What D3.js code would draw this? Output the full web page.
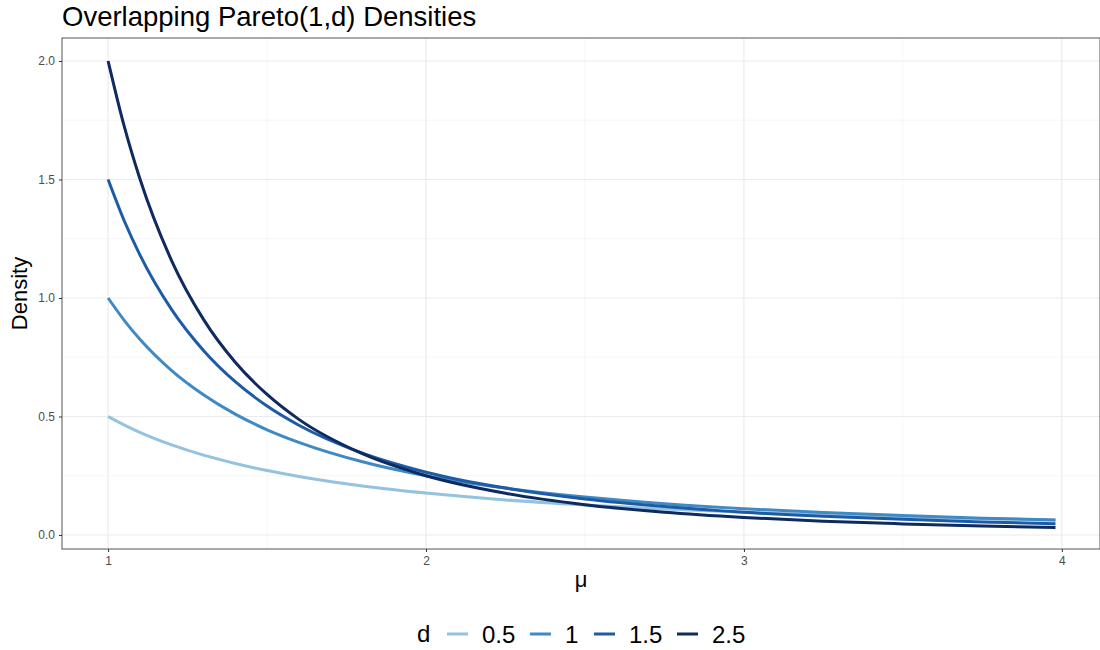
<!DOCTYPE html>
<html>
<head>
<meta charset="utf-8">
<script src="https://cdn.jsdelivr.net/npm/d3@7"></script>
<style>
  body { margin: 0; background: #fff; }
  svg { font-family: "Liberation Sans", Arial, Helvetica, sans-serif; }
</style>
</head>
<body>
<svg id="chart" width="1100" height="650"></svg>
<script>
// values
var xValues = [1, 1.05, 1.1, 1.2, 1.3, 1.4, 1.5, 1.6, 1.8, 2.0, 2.25, 2.5, 2.75, 3.0, 3.25, 3.5, 3.75, 3.98];
var d05 = [0.5, 0.465, 0.433, 0.380, 0.337, 0.302, 0.272, 0.247, 0.207, 0.177, 0.148, 0.127, 0.110, 0.096, 0.085, 0.076, 0.069, 0.063];
var d1 = [1.0, 0.907, 0.826, 0.694, 0.592, 0.510, 0.444, 0.391, 0.309, 0.250, 0.198, 0.160, 0.132, 0.111, 0.095, 0.082, 0.071, 0.063];
var d15 = [1.5, 1.328, 1.182, 0.951, 0.779, 0.647, 0.544, 0.463, 0.345, 0.265, 0.198, 0.152, 0.120, 0.096, 0.079, 0.066, 0.055, 0.048];
var d25 = [2.0, 1.728, 1.503, 1.157, 0.910, 0.729, 0.593, 0.488, 0.343, 0.250, 0.176, 0.128, 0.096, 0.074, 0.058, 0.047, 0.038, 0.032];
var seriesNames = ["0.5", "1", "1.5", "2.5"];
var seriesColors = ["#93c3df", "#3f8ac4", "#1d5ba6", "#0e2a60"];
var xTicks = [1, 2, 3, 4];
var yTicks = [0, 0.5, 1, 1.5, 2];

var svg = d3.select("#chart");

// panel box
var pLeft = 62, pRight = 1100, pTop = 38, pBottom = 549;

var x = d3.scaleLinear().domain([0.855, 4.12]).range([pLeft, pRight]);
var y = d3.scaleLinear().domain([-0.059, 2.097]).range([pBottom, pTop]);

// minor grid
svg.append("g").selectAll("line")
    .data([1.5, 2.5, 3.5])
    .enter().append("line")
    .attr("x1", function (d) { return x(d); }).attr("x2", function (d) { return x(d); })
    .attr("y1", pTop).attr("y2", pBottom)
    .attr("stroke", "#f0f0f0").attr("stroke-width", 0.6);
svg.append("g").selectAll("line")
    .data([0.25, 0.75, 1.25, 1.75])
    .enter().append("line")
    .attr("y1", function (d) { return y(d); }).attr("y2", function (d) { return y(d); })
    .attr("x1", pLeft).attr("x2", pRight)
    .attr("stroke", "#f0f0f0").attr("stroke-width", 0.6);

// major grid
svg.append("g").selectAll("line")
    .data(xTicks)
    .enter().append("line")
    .attr("x1", function (d) { return x(d); }).attr("x2", function (d) { return x(d); })
    .attr("y1", pTop).attr("y2", pBottom)
    .attr("stroke", "#ebebeb").attr("stroke-width", 1.2);
svg.append("g").selectAll("line")
    .data(yTicks)
    .enter().append("line")
    .attr("y1", function (d) { return y(d); }).attr("y2", function (d) { return y(d); })
    .attr("x1", pLeft).attr("x2", pRight)
    .attr("stroke", "#ebebeb").attr("stroke-width", 1.2);

// curves
var allSeries = [d05, d1, d15, d25];
var line = d3.line()
    .x(function (d, i) { return x(xValues[i]); })
    .y(function (d) { return y(d); })
    .curve(d3.curveMonotoneX);

svg.append("g").selectAll("path")
    .data(allSeries)
    .enter().append("path")
    .attr("d", line)
    .attr("fill", "none")
    .attr("stroke", function (d, i) { return seriesColors[i]; })
    .attr("stroke-width", 3);

// panel border
svg.append("rect")
    .attr("x", pLeft).attr("y", pTop)
    .attr("width", pRight - pLeft).attr("height", pBottom - pTop)
    .attr("fill", "none").attr("stroke", "#555").attr("stroke-width", 1);

// axes
var xAxis = svg.append("g")
    .attr("transform", "translate(0," + pBottom + ")")
    .call(d3.axisBottom(x).tickValues(xTicks).tickFormat(d3.format("d")).tickSize(3).tickPadding(4));
var yAxis = svg.append("g")
    .attr("transform", "translate(" + pLeft + ",0)")
    .call(d3.axisLeft(y).tickValues(yTicks).tickFormat(d3.format(".1f")).tickSize(3).tickPadding(4));
[xAxis, yAxis].forEach(function (a) {
    a.select(".domain").remove();
    a.selectAll(".tick line").attr("stroke", "#333");
    a.selectAll(".tick text")
        .attr("fill", "#4d4d4d")
        .style("font-size", "12px")
        .style("font-family", "'Liberation Sans', Arial, sans-serif");
});

// title and axis titles
svg.append("text")
    .attr("x", pLeft).attr("y", 26)
    .style("font-size", "27.5px")
    .text("Overlapping Pareto(1,d) Densities");

svg.append("text")
    .attr("transform", "translate(27," + ((pTop + pBottom) / 2) + ") rotate(-90)")
    .attr("text-anchor", "middle")
    .style("font-size", "22px")
    .text("Density");

svg.append("text")
    .attr("x", (pLeft + pRight) / 2).attr("y", 587)
    .attr("text-anchor", "middle")
    .style("font-size", "22px")
    .text("μ");

// legend
var legend = svg.append("g").attr("transform", "translate(0,634)");
legend.append("text")
    .attr("x", 417).attr("y", 8)
    .style("font-size", "24px")
    .text("d");
var keyX = [447, 530, 594, 677];
seriesNames.forEach(function (name, i) {
    legend.append("line")
        .attr("x1", keyX[i]).attr("x2", keyX[i] + 21)
        .attr("y1", 0).attr("y2", 0)
        .attr("stroke", seriesColors[i]).attr("stroke-width", 3);
    legend.append("text")
        .attr("x", keyX[i] + 35).attr("y", 8.5)
        .style("font-size", "24px")
        .text(name);
});
</script>
</body>
</html>
